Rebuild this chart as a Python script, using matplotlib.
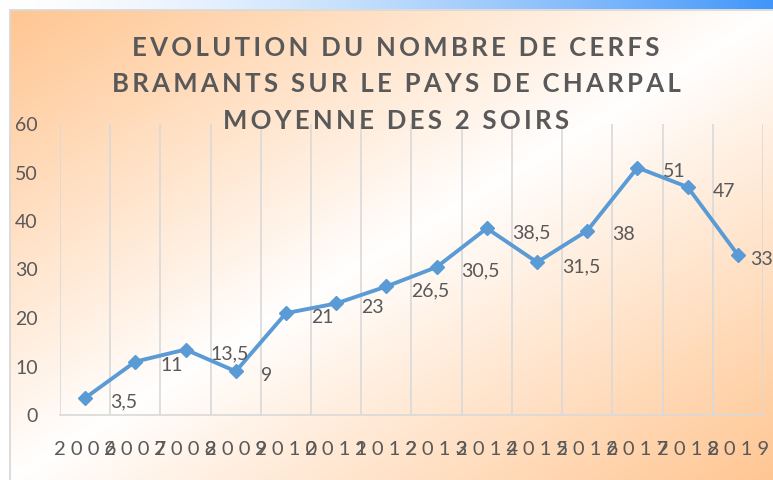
import numpy as np
import matplotlib
matplotlib.use("Agg")
import matplotlib.pyplot as plt

# données : moyenne des 2 soirs
years = [2006, 2007, 2008, 2009, 2010, 2011, 2012, 2013, 2014, 2015, 2016, 2017, 2018, 2019]
cerfs = [3.5, 11, 13.5, 9, 21, 23, 26.5, 30.5, 38.5, 31.5, 38, 51, 47, 33]
y_ticks = [0, 10, 20, 30, 40, 50, 60]
title_lines = ["EVOLUTION DU NOMBRE DE CERFS",
               "BRAMANTS SUR LE PAYS DE CHARPAL",
               "MOYENNE DES 2 SOIRS"]

W, H = 773, 480
gray = "#595959"
grid_col = "#D9D9D9"
line_col = "#5B9BD5"
fam = ["Lato", "DejaVu Sans"]

fig = plt.figure(figsize=(W / 100, H / 100), dpi=100)

# fond : dégradé orange / blanc / orange en diagonale
bg = fig.add_axes([0, 0, 1, 1], zorder=-5)
bg.set_xlim(0, W)
bg.set_ylim(H, 0)
bg.axis("off")
xx, yy = np.meshgrid(np.linspace(0, 1, 400), np.linspace(0, 1, 300))
t = (xx + yy) / 2
w = np.abs(2 * t - 1) ** 0.95
orange = np.array([255, 198, 146]) / 255
img = (1 - w[..., None]) * np.ones(3) + w[..., None] * orange
bg.imshow(img, extent=(10, W + 5, H, 10), aspect="auto", interpolation="bilinear")
# bandeau bleu en haut
strip = np.linspace(0, 1, 400) ** 1.5
blue = np.array([64, 150, 250]) / 255
sc = (1 - strip[None, :, None]) * np.ones(3) + strip[None, :, None] * blue
bg.imshow(sc, extent=(0, W, 9, 0), aspect="auto", interpolation="bilinear")
bg.plot([10, 10, W + 5], [H + 5, 10, 10], color=grid_col, lw=1.3)

# zone du graphique
ax = fig.add_axes([60 / W, (H - 415) / H, (763 - 60) / W, (415 - 124) / H])
ax.patch.set_alpha(0)
x = np.arange(len(years))
ax.plot(x, cerfs, color=line_col, lw=2.8, marker="D", markersize=7.5, zorder=3)

for xi, v in zip(x, cerfs):
    lab = f"{v:g}".replace(".", ",")
    dx = 18 if xi < len(years) - 1 else 9   # dernière étiquette collée au bord
    ax.annotate(lab, (xi, v), xytext=(dx, -3), textcoords="offset points",
                ha="left", va="center", color=gray, fontsize=14, family=fam,
                annotation_clip=False)

ax.set_xlim(-0.5, len(years) - 0.5)
ax.set_ylim(0, 60)
ax.set_yticks(y_ticks)
ax.set_yticklabels([str(v) for v in y_ticks], color=gray, fontsize=14, family=fam)
ax.set_xticks(x)
ax.set_xticklabels([" ".join(str(a)) for a in years], color=gray, fontsize=14.5, family=fam)
ax.set_xticks(np.arange(-0.5, len(years)), minor=True)
ax.grid(True, which="minor", axis="x", color=grid_col, lw=1.2)
ax.grid(False, which="major")
ax.tick_params(axis="both", which="both", length=0)
ax.tick_params(axis="y", pad=16)
ax.tick_params(axis="x", pad=19)
for s in ["top", "left", "right"]:
    ax.spines[s].set_visible(False)
ax.spines["bottom"].set_color(grid_col)
ax.spines["bottom"].set_linewidth(1.2)

# titre sur trois lignes, lettres espacées
for i, line in enumerate(title_lines):
    spaced = "\u2009".join(line)
    fig.text(396 / W, 1 - (48 + i * 36.5) / H, spaced, ha="center", va="center",
             fontsize=18.5, fontweight="bold", color=gray, family=fam)

fig.savefig("out.png", dpi=100)
